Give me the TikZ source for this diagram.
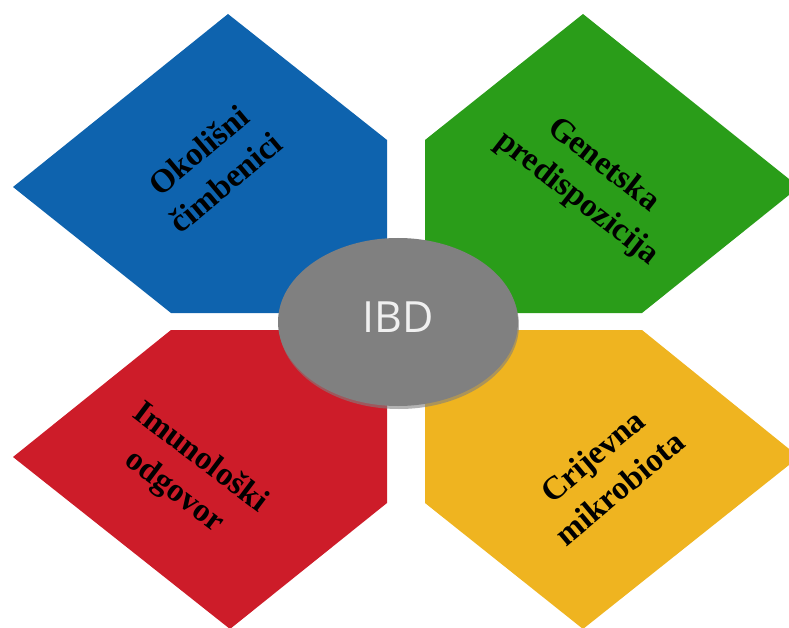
\documentclass[tikz,border=0pt]{standalone}
\usepackage{fontspec}
\setmainfont{Liberation Serif}
\newfontfamily\hubfont{Open Sans}
\usetikzlibrary{shapes.geometric,shadows}

\definecolor{envblue}{HTML}{0E63AE}
\definecolor{genegreen}{HTML}{2A9D19}
\definecolor{immunered}{HTML}{CD1C29}
\definecolor{gutyellow}{HTML}{EFB420}
\definecolor{hubgray}{HTML}{808080}

\begin{document}
\begin{tikzpicture}[
        x=1pt, y=-1pt,
        factor/.style={font=\bfseries\fontsize{33}{42}\selectfont, align=center, text=black},
        hub/.style={ellipse, fill=hubgray, minimum width=240pt, minimum height=168pt,
            text=white!94!black, font=\hubfont\fontsize{43}{50}\selectfont,
            drop shadow={shadow xshift=1pt, shadow yshift=-3pt, opacity=0.6}}]
    \useasboundingbox (0,0) rectangle (789,628);
    % four petals
    \fill[envblue] (228,14) -- (387,140) -- (387,313) -- (171,313) -- (13,187) -- cycle;
    \fill[genegreen] (583,14) -- (799,187) -- (642,313) -- (425,313) -- (425,140) -- cycle;
    \fill[immunered] (171,330) -- (387,330) -- (387,503) -- (230,629) -- (13,457) -- cycle;
    \fill[gutyellow] (425,330) -- (642,330) -- (799,457) -- (583,629) -- (425,503) -- cycle;
    % centre
    \node[hub] (ibd) at (398,322) {\raisebox{9pt}{IBD}};
    \node[factor, rotate=40] (env) at (212,166) {Okolišni\\čimbenici};
    \node[factor, rotate=-38] (gene) at (590,182) {Genetska\\predispozicija};
    \node[factor, rotate=-37] (immune) at (187,475) {Imunološki\\odgovor};
    \node[factor, rotate=40] (gut) at (606,472) {Crijevna\\mikrobiota};
\end{tikzpicture}
\end{document}
